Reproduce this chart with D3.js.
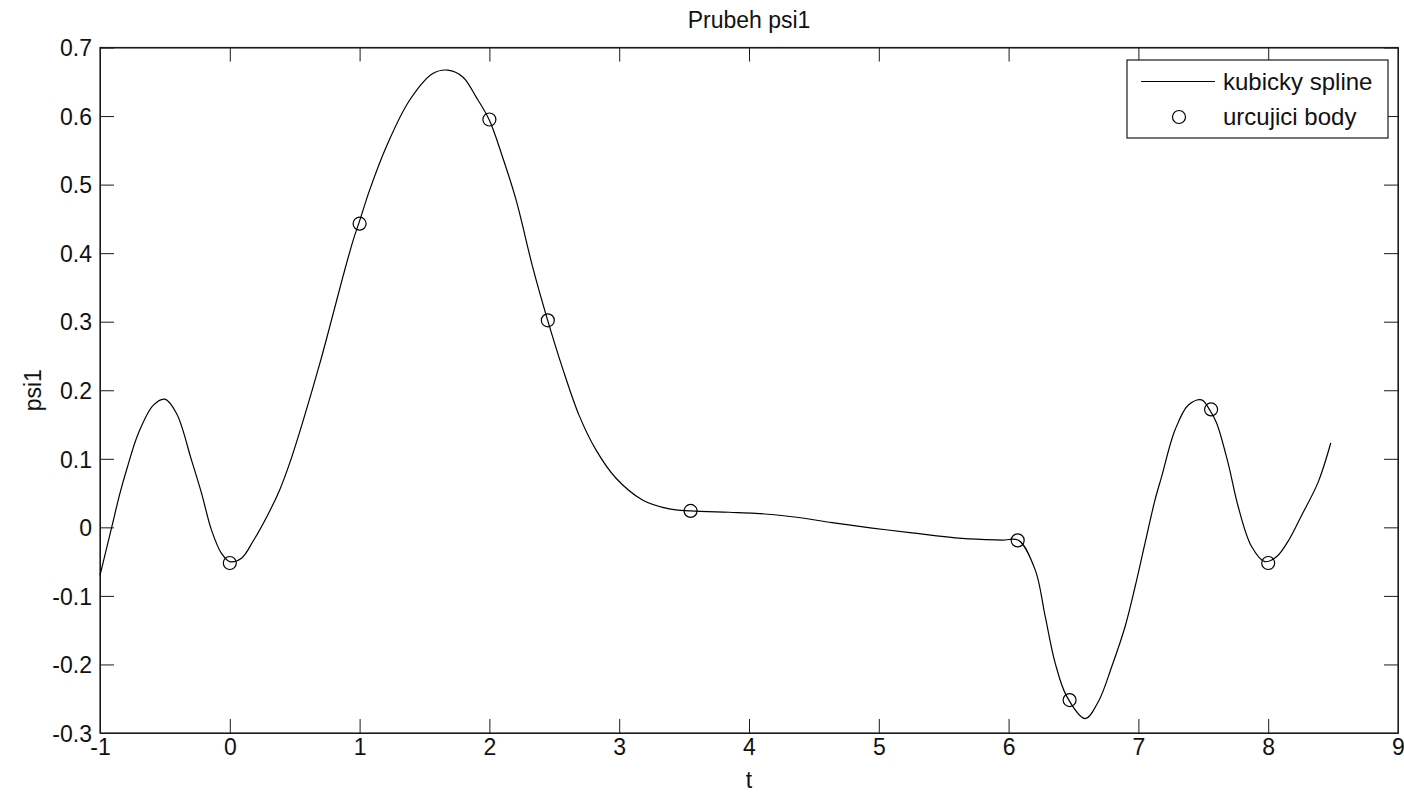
<!DOCTYPE html>
<html>
<head>
<meta charset="utf-8">
<script src="https://cdn.jsdelivr.net/npm/d3@7"></script>
<style>
  html, body { margin: 0; padding: 0; background: #fff; }
  svg { display: block; font-family: "Liberation Sans", Arial, sans-serif; }
  .axis text { font-size: 23px; fill: #111; }
  .axis line, .axis path { stroke: #1a1a1a; }
</style>
</head>
<body>
<svg id="chart"></svg>
<script>
// curve samples
const splineT = [-1, -0.91, -0.846, -0.795, -0.705, -0.59, -0.5, -0.41, -0.295, -0.218, -0.141, -0.064,
  0, 0.09, 0.18, 0.308, 0.385, 0.462, 0.564, 0.692, 0.769, 0.872, 0.949,
  1, 1.077, 1.205, 1.385, 1.564, 1.68, 1.795, 1.897,
  2, 2.1, 2.205, 2.333, 2.449, 2.564, 2.692, 2.821, 2.974,
  3.179, 3.385, 3.551, 3.846, 4.05, 4.333, 4.64, 4.949, 5.256, 5.641, 5.949,
  6.077, 6.205, 6.282, 6.359, 6.449, 6.59, 6.692, 6.795, 6.897, 6.974,
  7.051, 7.128, 7.179, 7.282, 7.385, 7.487, 7.55, 7.603, 7.692, 7.769, 7.872, 7.974,
  8.064, 8.154, 8.256, 8.385, 8.482];
const splinePsi = [-0.07, 0.0, 0.05, 0.084, 0.137, 0.178, 0.187, 0.166, 0.098, 0.05, -0.004, -0.038,
  -0.05, -0.045, -0.02, 0.024, 0.055, 0.094, 0.155, 0.238, 0.292, 0.366, 0.418,
  0.447, 0.492, 0.555, 0.623, 0.662, 0.667, 0.657, 0.628,
  0.594, 0.541, 0.478, 0.38, 0.302, 0.232, 0.163, 0.113, 0.072,
  0.04, 0.027, 0.024, 0.022, 0.0205, 0.0155, 0.007, -0.001, -0.008, -0.016, -0.0185,
  -0.019, -0.062, -0.13, -0.198, -0.247, -0.279, -0.254, -0.203, -0.145, -0.087,
  -0.023, 0.04, 0.074, 0.142, 0.1785, 0.186, 0.171, 0.152, 0.093, 0.03, -0.028, -0.05,
  -0.043, -0.02, 0.017, 0.066, 0.123];

// control points (circles)
const nodeT = [0, 1, 2, 2.45, 3.55, 6.07, 6.47, 7.56, 8];
const nodePsi = [-0.052, 0.443, 0.595, 0.302, 0.024, -0.019, -0.252, 0.172, -0.052];

const xTicks = [-1, 0, 1, 2, 3, 4, 5, 6, 7, 8, 9];
const yTicks = [-0.3, -0.2, -0.1, 0, 0.1, 0.2, 0.3, 0.4, 0.5, 0.6, 0.7];

const width = 1404;
const height = 794;
const margin = { top: 47.5, right: 6, bottom: 61, left: 100 };
const innerW = width - margin.left - margin.right;
const innerH = height - margin.top - margin.bottom;
const tickLen = 14;

const svg = d3.select("#chart").attr("width", width).attr("height", height);
const g = svg.append("g").attr("transform", `translate(${margin.left},${margin.top})`);

const x = d3.scaleLinear().domain([-1, 9]).range([0, innerW]);
const y = d3.scaleLinear().domain([-0.3, 0.7]).range([innerH, 0]);

// plain hyphen for negatives, like the original
const fmt = d => String(+d.toFixed(1));

// bottom + left axes with labels, ticks pointing inward
g.append("g")
  .attr("class", "axis")
  .attr("transform", `translate(0,${innerH})`)
  .call(d3.axisBottom(x).tickValues(xTicks).tickFormat(fmt).tickSizeInner(-tickLen).tickSizeOuter(0).tickPadding(4))
  .call(s => s.selectAll("text").attr("dy", "0.8em"));

g.append("g")
  .attr("class", "axis")
  .call(d3.axisLeft(y).tickValues(yTicks).tickFormat(fmt).tickSizeInner(-tickLen).tickSizeOuter(0).tickPadding(8))
  .call(s => s.selectAll("text").attr("dy", "0.36em"));

// top + right ticks, no labels
g.append("g")
  .attr("class", "axis")
  .call(d3.axisTop(x).tickValues(xTicks).tickSizeInner(-tickLen).tickSizeOuter(0).tickFormat(""));

g.append("g")
  .attr("class", "axis")
  .attr("transform", `translate(${innerW},0)`)
  .call(d3.axisRight(y).tickValues(yTicks).tickSizeInner(-tickLen).tickSizeOuter(0).tickFormat(""));

g.append("rect")
  .attr("width", innerW)
  .attr("height", innerH)
  .attr("fill", "none")
  .attr("stroke", "#1a1a1a")
  .attr("stroke-width", 1.2);

// spline
const pts = splineT.map((t, i) => [t, splinePsi[i]]);
const line = d3.line()
  .x(d => x(d[0]))
  .y(d => y(d[1]))
  .curve(d3.curveCatmullRom.alpha(0.5));

g.append("path")
  .datum(pts)
  .attr("fill", "none")
  .attr("stroke", "#000")
  .attr("stroke-width", 1.2)
  .attr("d", line);

// nodes
g.selectAll("circle.node")
  .data(nodeT.map((t, i) => [t, nodePsi[i]]))
  .enter()
  .append("circle")
  .attr("class", "node")
  .attr("cx", d => x(d[0]))
  .attr("cy", d => y(d[1]))
  .attr("r", 6.5)
  .attr("fill", "none")
  .attr("stroke", "#000")
  .attr("stroke-width", 1.2);

// title and axis labels
svg.append("text")
  .attr("x", margin.left + innerW / 2)
  .attr("y", 28)
  .attr("text-anchor", "middle")
  .attr("font-size", 23)
  .attr("fill", "#111")
  .text("Prubeh psi1");

svg.append("text")
  .attr("x", margin.left + innerW / 2)
  .attr("y", 788)
  .attr("text-anchor", "middle")
  .attr("font-size", 23)
  .attr("fill", "#111")
  .text("t");

svg.append("text")
  .attr("transform", `translate(41,${margin.top + innerH / 2}) rotate(-90)`)
  .attr("text-anchor", "middle")
  .attr("font-size", 23)
  .attr("fill", "#111")
  .text("psi1");

// legend
const legend = svg.append("g").attr("transform", "translate(1127,60)");
legend.append("rect")
  .attr("width", 261)
  .attr("height", 78)
  .attr("fill", "#fff")
  .attr("stroke", "#1a1a1a")
  .attr("stroke-width", 1.2);
legend.append("line")
  .attr("x1", 14).attr("x2", 88)
  .attr("y1", 21.5).attr("y2", 21.5)
  .attr("stroke", "#000")
  .attr("stroke-width", 1.2);
legend.append("circle")
  .attr("cx", 52).attr("cy", 57)
  .attr("r", 6.5)
  .attr("fill", "none")
  .attr("stroke", "#000")
  .attr("stroke-width", 1.2);
legend.append("text")
  .attr("x", 96).attr("y", 30)
  .attr("font-size", 24)
  .attr("fill", "#111")
  .text("kubicky spline");
legend.append("text")
  .attr("x", 96).attr("y", 65)
  .attr("font-size", 24)
  .attr("fill", "#111")
  .text("urcujici body");
</script>
</body>
</html>
